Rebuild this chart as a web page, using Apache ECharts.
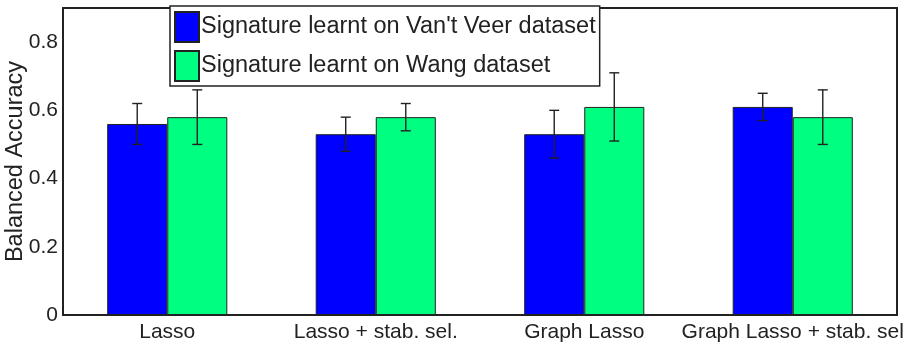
<!DOCTYPE html>
<html>
<head>
<meta charset="utf-8">
<script src="https://cdn.jsdelivr.net/npm/echarts@6/dist/echarts.min.js"></script>
<style>
  html, body { margin: 0; padding: 0; background: #fff; }
  #chart { width: 909px; height: 349px; }
</style>
</head>
<body>
<div id="chart"></div>
<script>
// categories and values
var categories = ['Lasso', 'Lasso + stab. sel.', 'Graph Lasso', 'Graph Lasso + stab. sel'];
var seriesNames = ["Signature learnt on Van't Veer dataset", 'Signature learnt on Wang dataset'];

var vantVeerMean = [0.56, 0.53, 0.53, 0.61];
var vantVeerLow  = [0.50, 0.48, 0.46, 0.57];
var vantVeerHigh = [0.62, 0.58, 0.60, 0.65];

var wangMean = [0.58, 0.58, 0.61, 0.58];
var wangLow  = [0.50, 0.54, 0.51, 0.50];
var wangHigh = [0.66, 0.62, 0.71, 0.66];

var yTicks = [0, 0.2, 0.4, 0.6, 0.8];

var FONT = '"Liberation Sans", Arial, sans-serif';
var BAR_FRAC = 0.288;

function errData(low, high) {
  return categories.map(function (c, i) { return [i, low[i], high[i]]; });
}

// error bar drawn as a custom series, shifted left/right onto its bar
function errorBars(side) {
  return function (params, api) {
    var idx = api.value(0);
    var lo = api.coord([idx, api.value(1)]);
    var hi = api.coord([idx, api.value(2)]);
    var bw = api.size([1, 0])[0] * BAR_FRAC;
    var x = lo[0] + side * bw / 2;
    var cap = 5;
    var style = { stroke: '#222', lineWidth: 1.4 };
    return {
      type: 'group',
      children: [
        { type: 'line', shape: { x1: x, y1: hi[1], x2: x, y2: lo[1] }, style: style },
        { type: 'line', shape: { x1: x - cap, y1: hi[1], x2: x + cap, y2: hi[1] }, style: style },
        { type: 'line', shape: { x1: x - cap, y1: lo[1], x2: x + cap, y2: lo[1] }, style: style }
      ]
    };
  };
}

var chart = echarts.init(document.getElementById('chart'));
chart.setOption({
  animation: false,
  textStyle: { fontFamily: FONT },
  grid: {
    left: 63, right: 12, top: 8, bottom: 34,
    containLabel: false, outerBoundsMode: 'none',
    show: true, borderColor: '#222', borderWidth: 2, backgroundColor: '#fff'
  },
  legend: {
    orient: 'vertical',
    left: 170, top: 6,
    width: 433,
    padding: [5, 4, 4, 4],
    icon: 'rect',
    itemWidth: 24, itemHeight: 30, itemGap: 7,
    backgroundColor: '#fff',
    borderColor: '#222', borderWidth: 1.5,
    textStyle: { fontSize: 23.5, color: '#222', fontFamily: FONT, padding: [0, 0, 0, -3] },
    data: seriesNames
  },
  xAxis: {
    type: 'category',
    data: categories,
    axisLine: { show: false },
    axisTick: { show: false },
    axisLabel: { fontSize: 21, color: '#222', margin: 7, interval: 0 }
  },
  yAxis: {
    type: 'value',
    min: 0, max: 0.9, interval: 0.2,
    splitLine: { show: false },
    axisLine: { show: false },
    axisTick: { show: false },
    name: 'Balanced Accuracy',
    nameLocation: 'middle',
    nameGap: 35,
    nameMoveOverlap: false,
    nameTextStyle: { fontSize: 23.5, color: '#222' },
    axisLabel: {
      fontSize: 21, color: '#222', margin: 5,
      formatter: function (v) {
        var t = yTicks.filter(function (y) { return Math.abs(y - v) < 1e-9; });
        return t.length ? (v === 0 ? '0' : v.toFixed(1)) : '';
      }
    }
  },
  series: [
    {
      name: seriesNames[0], type: 'bar', data: vantVeerMean,
      barWidth: (BAR_FRAC * 100) + '%', barGap: '0%',
      itemStyle: { color: '#0000ff', borderColor: '#222', borderWidth: 1 }
    },
    {
      name: seriesNames[1], type: 'bar', data: wangMean,
      barWidth: (BAR_FRAC * 100) + '%', barGap: '0%',
      itemStyle: { color: '#00ff80', borderColor: '#222', borderWidth: 1 }
    },
    {
      type: 'custom', renderItem: errorBars(-1), data: errData(vantVeerLow, vantVeerHigh), z: 5
    },
    {
      type: 'custom', renderItem: errorBars(1), data: errData(wangLow, wangHigh), z: 5
    }
  ]
});
</script>
</body>
</html>
